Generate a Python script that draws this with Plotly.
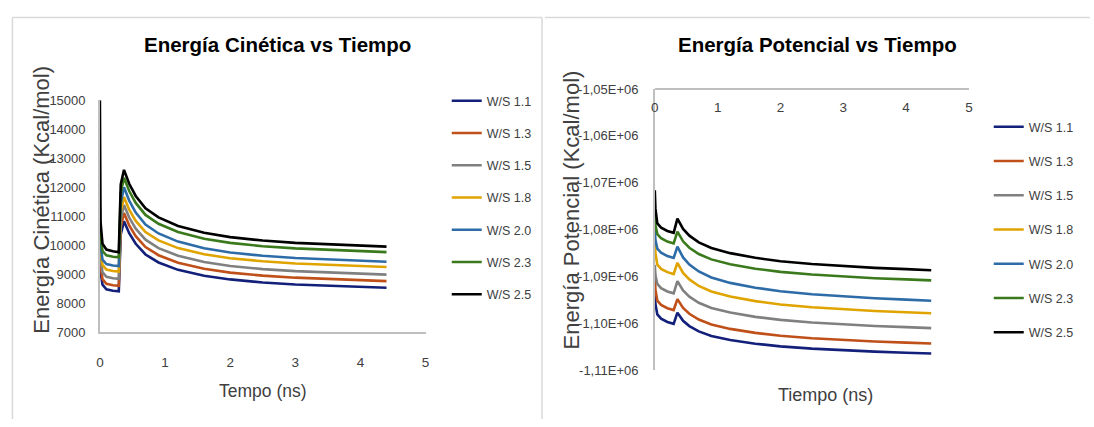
import plotly.graph_objects as go

# ---------------- data ----------------
series_names = ["W/S 1.1", "W/S 1.3", "W/S 1.5", "W/S 1.8", "W/S 2.0", "W/S 2.3", "W/S 2.5"]
series_colors = ["#13207a", "#c0501a", "#808080", "#e0a400", "#2e6ca8", "#3a7a1c", "#000000"]

# kinetic energy (Kcal/mol) vs time (ns)
t_kin = [0, 0.01, 0.04, 0.1, 0.2, 0.29, 0.32, 0.37, 0.45, 0.55, 0.7, 0.9,
         1.2, 1.6, 2.0, 2.5, 3.0, 3.5, 4.0, 4.4]
kin_ws11 = [9900, 9100, 8640, 8480, 8430, 8410, 10370, 10830, 10415, 10050, 9680, 9405,
            9150, 8945, 8820, 8715, 8645, 8600, 8560, 8530]
kin_ws13 = [10100, 9300, 8830, 8670, 8620, 8600, 10620, 11110, 10685, 10310, 9935, 9655,
            9395, 9185, 9055, 8950, 8880, 8830, 8790, 8760]
kin_ws15 = [10300, 9550, 9070, 8910, 8860, 8840, 10880, 11390, 10955, 10570, 10190, 9900,
            9635, 9420, 9285, 9175, 9105, 9055, 9015, 8985]
kin_ws18 = [10600, 9800, 9320, 9160, 9110, 9090, 11150, 11660, 11225, 10840, 10455, 10165,
            9900, 9685, 9550, 9445, 9370, 9320, 9280, 9250]
kin_ws20 = [10900, 10000, 9500, 9350, 9300, 9280, 11450, 12000, 11540, 11125, 10715, 10405,
            10125, 9895, 9750, 9635, 9560, 9505, 9465, 9430]
kin_ws23 = [11300, 10300, 9800, 9650, 9600, 9580, 11800, 12330, 11870, 11460, 11045, 10740,
            10455, 10220, 10080, 9965, 9890, 9840, 9795, 9760]
kin_ws25 = [15000, 10800, 10050, 9850, 9790, 9760, 12100, 12600, 12120, 11700, 11275, 10960,
            10665, 10430, 10280, 10160, 10080, 10030, 9985, 9950]

# potential energy (Kcal/mol) vs time (ns)
t_pot = [0, 0.01, 0.04, 0.1, 0.2, 0.3, 0.36, 0.45, 0.55, 0.7, 0.9,
         1.2, 1.6, 2.0, 2.5, 3.0, 3.5, 4.0, 4.4]
pot_ws11 = [-1093000, -1095800, -1098060, -1098960, -1099660, -1100060, -1097670, -1099410,
            -1100540, -1101680, -1102640, -1103510, -1104290, -1104860, -1105340, -1105700,
            -1105990, -1106210, -1106380]
pot_ws13 = [-1089500, -1092800, -1095120, -1096020, -1096720, -1097120, -1094790, -1096680,
            -1097920, -1099150, -1100190, -1101140, -1101990, -1102600, -1103120, -1103520,
            -1103830, -1104070, -1104260]
pot_ws15 = [-1087500, -1089700, -1091560, -1092460, -1093160, -1093560, -1090950, -1092950,
            -1094260, -1095560, -1096660, -1097660, -1098570, -1099220, -1099770, -1100190,
            -1100520, -1100770, -1100970]
pot_ws18 = [-1082000, -1085000, -1087440, -1088340, -1089040, -1089440, -1087040, -1089190,
            -1090590, -1091990, -1093170, -1094250, -1095220, -1095920, -1096510, -1096960,
            -1097320, -1097590, -1097800]
pot_ws20 = [-1080000, -1082200, -1084010, -1084910, -1085610, -1086010, -1083600, -1085910,
            -1087410, -1088900, -1090170, -1091330, -1092360, -1093110, -1093750, -1094230,
            -1094610, -1094900, -1095130]
pot_ws23 = [-1076500, -1079000, -1080920, -1081820, -1082520, -1082920, -1080390, -1082470,
            -1083830, -1085180, -1086320, -1087370, -1088300, -1088980, -1089550, -1089990,
            -1090330, -1090590, -1090800]
pot_ws25 = [-1071600, -1075500, -1078660, -1079560, -1080260, -1080660, -1077630, -1079830,
            -1081260, -1082690, -1083890, -1084990, -1085980, -1086700, -1087300, -1087760,
            -1088130, -1088400, -1088620]

kin_ticks = [7000, 8000, 9000, 10000, 11000, 12000, 13000, 14000, 15000]
pot_tickvals = [-1110000, -1100000, -1090000, -1080000, -1070000, -1060000, -1050000]
pot_ticktext = ["-1,11E+06", "-1,10E+06", "-1,09E+06", "-1,08E+06", "-1,07E+06",
                "-1,06E+06", "-1,05E+06"]
time_ticks = [0, 1, 2, 3, 4, 5]

kin_series = [kin_ws11, kin_ws13, kin_ws15, kin_ws18, kin_ws20, kin_ws23, kin_ws25]
pot_series = [pot_ws11, pot_ws13, pot_ws15, pot_ws18, pot_ws20, pot_ws23, pot_ws25]

# ---------------- figure ----------------
W, H = 1094, 427
FONT = "Liberation Sans, Arial, sans-serif"
AXIS_GRAY = "#bfbfbf"
TEXT_GRAY = "#404040"


def px_x(p):
    return p / W


def px_y(p):
    return 1 - p / H


fig = go.Figure()

for name, color, ys in zip(series_names, series_colors, kin_series):
    fig.add_trace(go.Scatter(x=t_kin, y=ys, name=name, mode="lines",
                             line=dict(color=color, width=2.6),
                             xaxis="x", yaxis="y", legend="legend",
                             legendgroup="k" + name))
for name, color, ys in zip(series_names, series_colors, pot_series):
    fig.add_trace(go.Scatter(x=t_pot, y=ys, name=name, mode="lines",
                             line=dict(color=color, width=2.6),
                             xaxis="x2", yaxis="y2", legend="legend2",
                             legendgroup="p" + name))

tick_font = dict(family=FONT, size=13, color=TEXT_GRAY)
xtick_font = dict(family=FONT, size=13.5, color=TEXT_GRAY)
legend_font = dict(family=FONT, size=12.5, color=TEXT_GRAY)

fig.update_layout(
    width=W, height=H,
    margin=dict(l=0, r=0, t=0, b=0),
    paper_bgcolor="white", plot_bgcolor="white",
    showlegend=True,
    xaxis=dict(domain=[px_x(96.6), px_x(424.7)], range=[0, 5], tickvals=time_ticks,
               showgrid=False, zeroline=False, showline=True, linecolor=AXIS_GRAY,
               linewidth=1.5, ticks="", tickfont=xtick_font, ticklabelstandoff=17,
               anchor="y"),
    yaxis=dict(domain=[px_y(337), px_y(96.7)], range=[7000, 15000], tickvals=kin_ticks,
               tickformat="d",
               showgrid=False, zeroline=False, showline=True, linecolor=AXIS_GRAY,
               linewidth=1.5, ticks="", tickfont=tick_font, ticklabelstandoff=10,
               anchor="x"),
    # time axis of the potential-energy panel sits on the top edge (-1.05E+06),
    # with its labels hanging beneath it
    xaxis2=dict(domain=[px_x(655.6), px_x(972)], range=[0, 5], tickvals=time_ticks,
                side="bottom", anchor="free", position=px_y(85),
                showgrid=False, zeroline=False, showline=True, linecolor=AXIS_GRAY,
                linewidth=1.5, ticks="", tickfont=xtick_font, ticklabelstandoff=6),
    yaxis2=dict(domain=[px_y(376.7), px_y(85)], range=[-1110000, -1050000],
                tickvals=pot_tickvals, ticktext=pot_ticktext,
                showgrid=False, zeroline=False, showline=True, linecolor=AXIS_GRAY,
                linewidth=1.5, ticks="", tickfont=tick_font, ticklabelstandoff=12,
                anchor="x2"),
    legend=dict(x=px_x(446), y=px_y(82), xanchor="left", yanchor="top",
                font=legend_font, tracegroupgap=13, bgcolor="rgba(0,0,0,0)", itemwidth=30),
    legend2=dict(x=px_x(992), y=px_y(109), xanchor="left", yanchor="top",
                 font=legend_font, tracegroupgap=15, bgcolor="rgba(0,0,0,0)", itemwidth=30),
)

annotations = [
    dict(text="<b>Energía Cinética vs Tiempo</b>", x=px_x(275.5), y=px_y(39),
         font=dict(family=FONT, size=20.5, color="#000000")),
    dict(text="<b>Energía Potencial vs Tiempo</b>", x=px_x(819), y=px_y(39),
         font=dict(family=FONT, size=20.5, color="#000000")),
    dict(text="Tempo (ns)", x=px_x(261), y=px_y(398),
         font=dict(family=FONT, size=17.5, color=TEXT_GRAY)),
    dict(text="Tiempo (ns)", x=px_x(828), y=px_y(402),
         font=dict(family=FONT, size=18, color=TEXT_GRAY)),
    dict(text="Energía Cinética (Kcal/mol)", x=px_x(38), y=px_y(200), textangle=-90,
         font=dict(family=FONT, size=22, color=TEXT_GRAY)),
    dict(text="Energía Potencial (Kcal/mol)", x=px_x(572), y=px_y(210), textangle=-90,
         font=dict(family=FONT, size=22, color=TEXT_GRAY)),
]
for a in annotations:
    a.update(xref="paper", yref="paper", showarrow=False, xanchor="center", yanchor="middle")
fig.update_layout(annotations=annotations)

# panel frames
frame = dict(color="#d9d9d9", width=1.5)
fig.update_layout(shapes=[
    dict(type="line", xref="paper", yref="paper", x0=px_x(8.5), x1=px_x(8.5),
         y0=px_y(11), y1=px_y(427), line=frame),
    dict(type="line", xref="paper", yref="paper", x0=px_x(8.5), x1=px_x(542),
         y0=px_y(11), y1=px_y(11), line=frame),
    dict(type="line", xref="paper", yref="paper", x0=px_x(542), x1=px_x(542),
         y0=px_y(11), y1=px_y(427), line=frame),
    dict(type="line", xref="paper", yref="paper", x0=px_x(545), x1=1,
         y0=px_y(11), y1=px_y(11), line=frame),
])

fig.write_html("out.html")
